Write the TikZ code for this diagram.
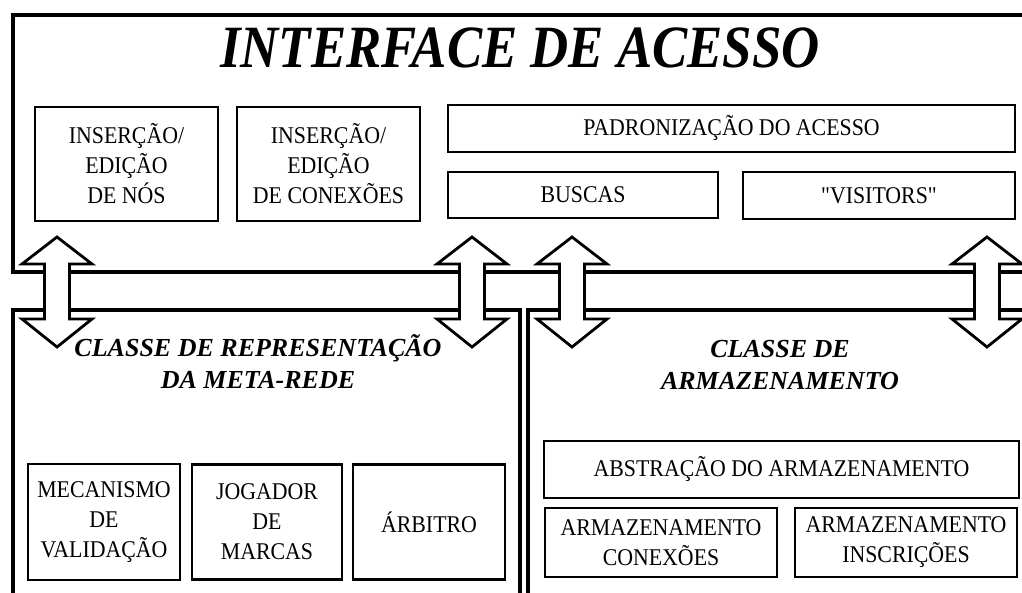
\documentclass[tikz,border=0pt]{standalone}
\usepackage{fontspec}
\setmainfont{Liberation Serif}
\newfontfamily\fontecaixa{Liberation Serif}[FakeStretch=0.91]
\newfontfamily\fontetitulo{Liberation Serif}[FakeStretch=0.88]
\usetikzlibrary{positioning}

\tikzset{
    pics/setadupla/.style={code={
        \draw[seta] (0,-55) -- (35,-28) -- (12.5,-28) -- (12.5,27) -- (35,27) -- (0,55)
            -- (-35,27) -- (-12.5,27) -- (-12.5,-28) -- (-35,-28) -- cycle;
    }}
}

\begin{document}
\begin{tikzpicture}[
        x=1pt, y=-1pt,
        caixa/.style={rectangle, draw, line width=2.5pt, inner sep=0pt, outer sep=0pt, align=center, font=\fontecaixa\fontsize{24}{30}\selectfont},
        titulo/.style={align=center, font=\fontsize{26}{32}\selectfont\bfseries\itshape},
        moldura/.style={line width=3.2pt},
        seta/.style={draw, fill=white, line width=2.8pt, line join=miter}
    ]
        \clip (0,0) rectangle (1022,592);

        % Molduras
        \draw[moldura] (1040,15) -- (13,15) -- (13,272) -- (1040,272);
        \draw[moldura] (13,610) -- (13,310) -- (520,310) -- (520,610);
        \draw[moldura] (1040,310) -- (528,310) -- (528,610);

        % Setas
        \pic at (57,292) {setadupla};
        \pic at (472,292) {setadupla};
        \pic at (572,292) {setadupla};
        \pic at (987,292) {setadupla};

        % Titulos
        \node (interface) [anchor=base, font=\fontetitulo\fontsize{60}{60}\selectfont\bfseries\itshape] at (520,67) {INTERFACE DE ACESSO};
        \node (representacao) [titulo] at (258,362) {CLASSE DE REPRESENTAÇÃO\\DA META-REDE};
        \node (armazenamento) [titulo] at (780,365) {CLASSE DE\\ARMAZENAMENTO};

        % Interface
        \node (insnos) [caixa, minimum width=183, minimum height=114] at (126.5,164) {INSERÇÃO/\\EDIÇÃO\\DE NÓS};
        \node (insconex) [caixa, minimum width=183, minimum height=114, right=19pt of insnos] {INSERÇÃO/\\EDIÇÃO\\DE CONEXÕES};
        \node (padron) [caixa, minimum width=567, minimum height=47] at (731.5,128.5) {PADRONIZAÇÃO DO ACESSO};
        \node (buscas) [caixa, minimum width=270, minimum height=46] at (583,195) {BUSCAS};
        \node (visitors) [caixa, minimum width=272, minimum height=47] at (879,195.5) {"VISITORS"};

        % Representacao
        \node (mecanismo) [caixa, minimum width=152, minimum height=116] at (104,522) {MECANISMO\\DE\\VALIDAÇÃO};
        \node (jogador) [caixa, minimum width=150, minimum height=115, right=12pt of mecanismo] {JOGADOR\\DE\\MARCAS};
        \node (arbitro) [caixa, minimum width=152, minimum height=115, right=11pt of jogador] {ÁRBITRO};

        % Armazenamento
        \node (abstracao) [caixa, minimum width=475, minimum height=57] at (781.5,469.5) {ABSTRAÇÃO DO ARMAZENAMENTO};
        \node (armconex) [caixa, minimum width=232, minimum height=69] at (661,542.5) {ARMAZENAMENTO\\CONEXÕES};
        \node (arminscr) [caixa, minimum width=222, minimum height=69] at (906,542.5) {ARMAZENAMENTO\\INSCRIÇÕES};
    \end{tikzpicture}
\end{document}
